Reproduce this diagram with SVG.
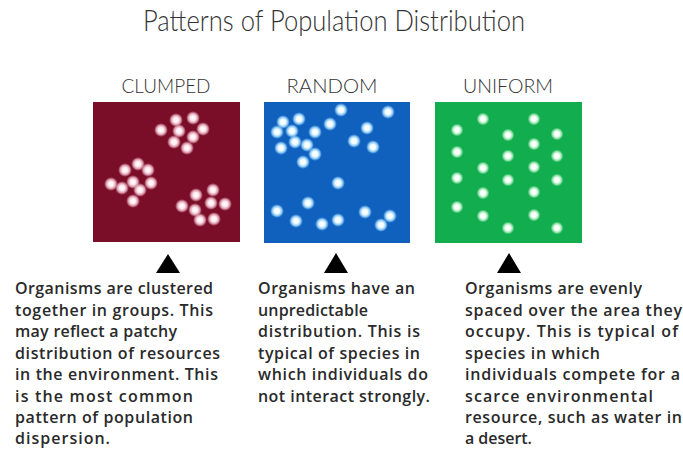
<svg xmlns="http://www.w3.org/2000/svg" width="683" height="449" viewBox="0 0 683 449">
<defs>
<radialGradient id="gR"><stop offset="0" stop-color="#ffffff"/><stop offset="0.4" stop-color="#fce8ee"/><stop offset="0.7" stop-color="#f0b8c8" stop-opacity="0.8"/><stop offset="1" stop-color="#e090a8" stop-opacity="0"/></radialGradient>
<radialGradient id="gB"><stop offset="0" stop-color="#ffffff"/><stop offset="0.4" stop-color="#eefaff"/><stop offset="0.7" stop-color="#a8e0ff" stop-opacity="0.8"/><stop offset="1" stop-color="#70c0ff" stop-opacity="0"/></radialGradient>
<radialGradient id="gG"><stop offset="0" stop-color="#ffffff"/><stop offset="0.4" stop-color="#f2fff5"/><stop offset="0.7" stop-color="#b8f0c8" stop-opacity="0.8"/><stop offset="1" stop-color="#80e0a0" stop-opacity="0"/></radialGradient>
</defs>
<style>
.title{font-family:Lato,"DejaVu Sans",sans-serif;font-weight:300;font-size:29px;fill:#333}
.lbl{font-family:Lato,"DejaVu Sans",sans-serif;font-weight:300;font-size:19px;fill:#333;text-anchor:middle}
.body{font-family:"Open Sans","Noto Sans",sans-serif;font-weight:600;font-size:16px;fill:#2a2a2a}
.dr circle{fill:url(#gR)}
.db circle{fill:url(#gB)}
.dg circle{fill:url(#gG)}
.tri{fill:#000}
</style>
<rect width="683" height="449" fill="#ffffff"/>
<text class="title" x="143" y="31" textLength="382" lengthAdjust="spacingAndGlyphs">Patterns of Population Distribution</text>

<g id="clumped">
<text class="lbl" x="166" y="93" textLength="89" lengthAdjust="spacingAndGlyphs">CLUMPED</text>
<rect x="93" y="102" width="147" height="140" fill="#7a0d27"/>
<g class="dr">
<circle cx="176" cy="120" r="7"/><circle cx="193" cy="118" r="7"/><circle cx="161" cy="130" r="7"/><circle cx="179" cy="131" r="7"/><circle cx="203" cy="129" r="7"/><circle cx="193" cy="137" r="7"/><circle cx="174" cy="142" r="7"/><circle cx="187" cy="148" r="7"/>
<circle cx="138" cy="164" r="7"/><circle cx="125" cy="170" r="7"/><circle cx="148" cy="170" r="7"/><circle cx="111" cy="184" r="7"/><circle cx="133" cy="182" r="7"/><circle cx="151" cy="183" r="7"/><circle cx="122" cy="188" r="7"/><circle cx="140" cy="190" r="7"/><circle cx="133" cy="201" r="7"/>
<circle cx="213" cy="190" r="7"/><circle cx="196" cy="195" r="7"/><circle cx="211" cy="203" r="7"/><circle cx="225" cy="204" r="7"/><circle cx="182" cy="206" r="7"/><circle cx="195" cy="210" r="7"/><circle cx="200" cy="220" r="7"/><circle cx="214" cy="219" r="7"/>
</g>
<polygon class="tri" points="168,254 156,273 180,273"/>
<text class="body">
<tspan x="15" y="294" textLength="198">Organisms are clustered</tspan>
<tspan x="15" y="315.5" textLength="198">together in groups. This</tspan>
<tspan x="15" y="337" textLength="162">may reflect a patchy</tspan>
<tspan x="15" y="358.5" textLength="205">distribution of resources</tspan>
<tspan x="15" y="380" textLength="203">in the environment. This</tspan>
<tspan x="15" y="401.5" textLength="178">is the most common</tspan>
<tspan x="15" y="423" textLength="178">pattern of population</tspan>
<tspan x="15" y="444" textLength="95">dispersion.</tspan>
</text>
</g>

<g id="random">
<text class="lbl" x="332" y="93" textLength="91" lengthAdjust="spacingAndGlyphs">RANDOM</text>
<rect x="264" y="102" width="146" height="141" fill="#1060be"/>
<g class="db">
<circle cx="341" cy="110" r="7"/><circle cx="388" cy="112" r="7"/><circle cx="283" cy="122" r="7"/><circle cx="299" cy="119" r="7"/><circle cx="330" cy="124" r="7"/><circle cx="277" cy="132" r="7"/><circle cx="292" cy="131" r="7"/><circle cx="315" cy="132" r="7"/><circle cx="367" cy="128" r="7"/><circle cx="295" cy="142" r="7"/><circle cx="307" cy="145" r="7"/><circle cx="354" cy="141" r="7"/><circle cx="373" cy="147" r="7"/><circle cx="281" cy="148" r="7"/><circle cx="315" cy="154" r="7"/><circle cx="303" cy="162" r="7"/><circle cx="338" cy="183" r="7"/><circle cx="308" cy="203" r="7"/><circle cx="277" cy="211" r="7"/><circle cx="296" cy="221" r="7"/><circle cx="322" cy="224" r="7"/><circle cx="338" cy="220" r="7"/><circle cx="365" cy="212" r="7"/><circle cx="390" cy="216" r="7"/><circle cx="381" cy="225" r="7"/>
</g>
<polygon class="tri" points="336,253 324,273 348,273"/>
<text class="body">
<tspan x="258" y="294" textLength="157">Organisms have an</tspan>
<tspan x="258" y="315.5" textLength="110">unpredictable</tspan>
<tspan x="258" y="337" textLength="162">distribution. This is</tspan>
<tspan x="258" y="358.5" textLength="162">typical of species in</tspan>
<tspan x="258" y="380" textLength="170">which individuals do</tspan>
<tspan x="258" y="401.5" textLength="172">not interact strongly.</tspan>
</text>
</g>

<g id="uniform">
<text class="lbl" x="508" y="93" textLength="90" lengthAdjust="spacingAndGlyphs">UNIFORM</text>
<rect x="435" y="102" width="147" height="141" fill="#12ad4e"/>
<g class="dg">
<circle cx="483" cy="119" r="6.5"/><circle cx="534" cy="119" r="6.5"/><circle cx="457" cy="130" r="6.5"/><circle cx="508" cy="135" r="6.5"/><circle cx="557" cy="134" r="6.5"/><circle cx="534" cy="144" r="6.5"/><circle cx="457" cy="152" r="6.5"/><circle cx="508" cy="156" r="6.5"/><circle cx="557" cy="156" r="6.5"/><circle cx="483" cy="168" r="6.5"/><circle cx="534" cy="167" r="6.5"/><circle cx="457" cy="178" r="6.5"/><circle cx="508" cy="180" r="6.5"/><circle cx="557" cy="180" r="6.5"/><circle cx="483" cy="193" r="6.5"/><circle cx="534" cy="192" r="6.5"/><circle cx="457" cy="207" r="6.5"/><circle cx="483" cy="216" r="6.5"/><circle cx="534" cy="215" r="6.5"/><circle cx="508" cy="228" r="6.5"/><circle cx="557" cy="228" r="6.5"/>
</g>
<polygon class="tri" points="509,253 497,273 521,273"/>
<text class="body">
<tspan x="465" y="294" textLength="177">Organisms are evenly</tspan>
<tspan x="465" y="315.5" textLength="217">spaced over the area they</tspan>
<tspan x="465" y="337" textLength="213">occupy. This is typical of</tspan>
<tspan x="465" y="358.5" textLength="135">species in which</tspan>
<tspan x="465" y="380" textLength="215">individuals compete for a</tspan>
<tspan x="465" y="401.5" textLength="188">scarce environmental</tspan>
<tspan x="465" y="423" textLength="217">resource, such as water in</tspan>
<tspan x="465" y="444" textLength="67">a desert.</tspan>
</text>
</g>
</svg>
